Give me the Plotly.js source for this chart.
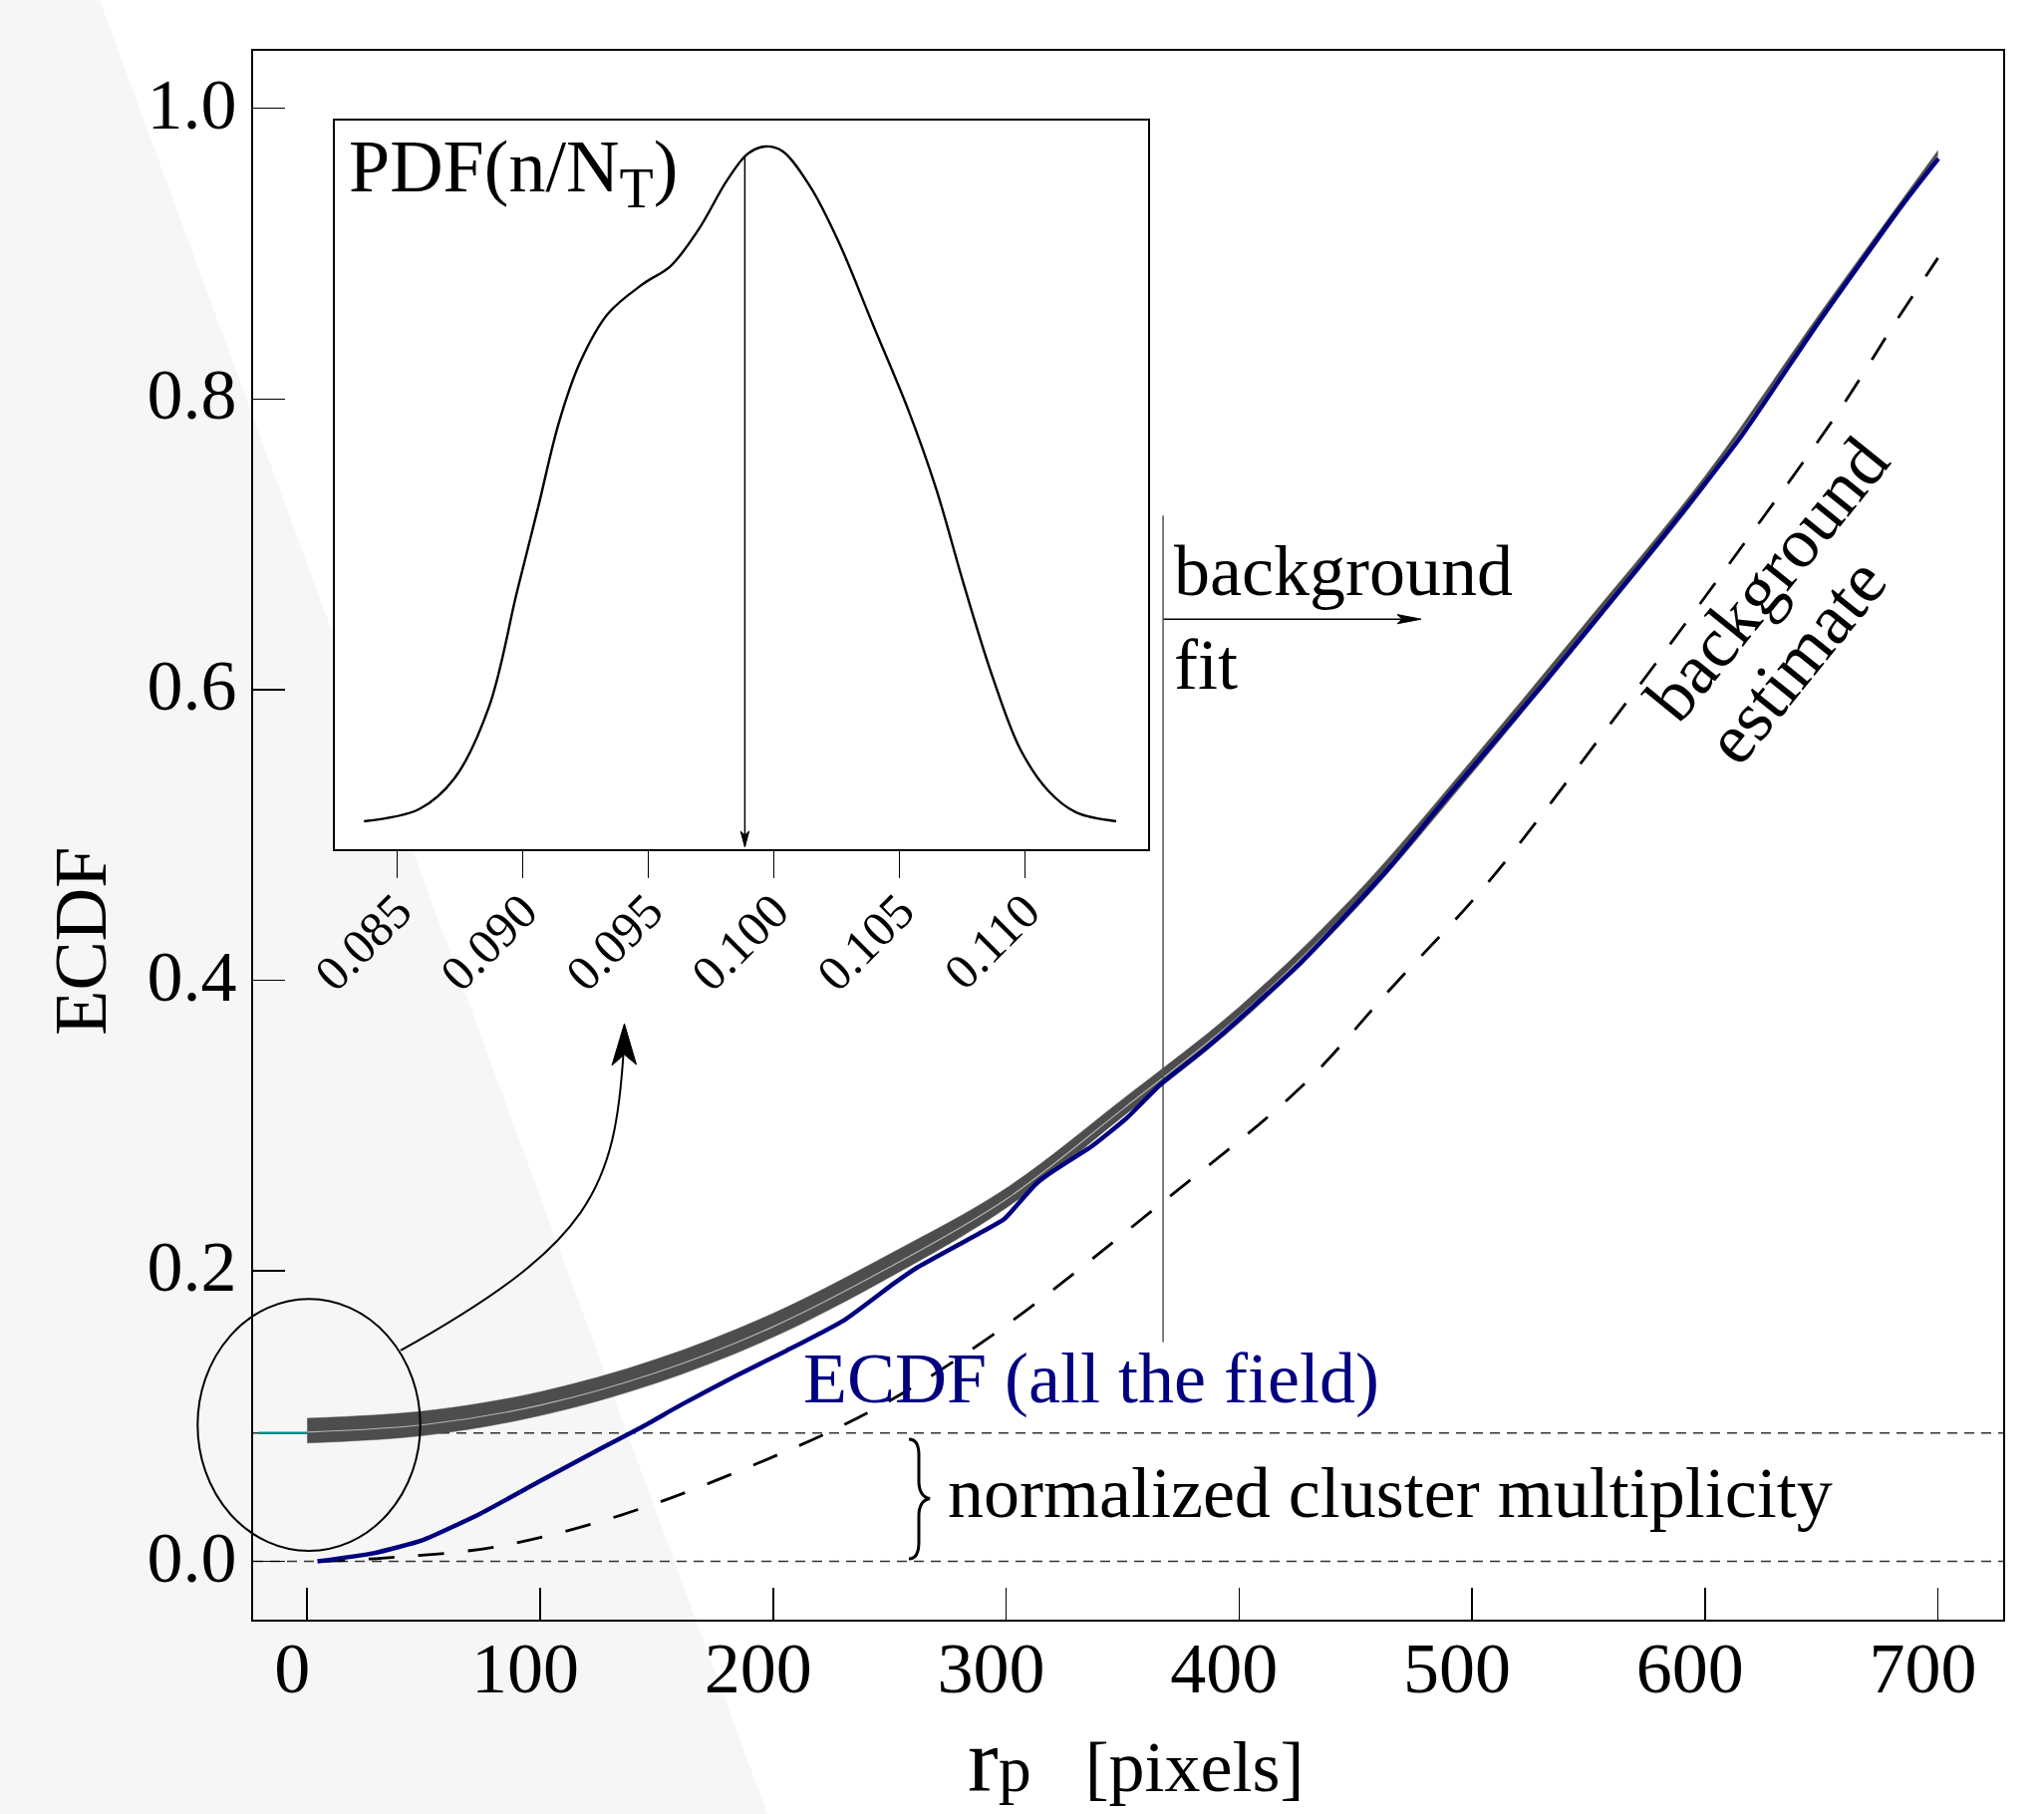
<!DOCTYPE html>
<html>
<head>
<meta charset="utf-8">
<script src="https://cdn.plot.ly/plotly-3.0.1.min.js"></script>
<style>
html,body{margin:0;padding:0;background:#ffffff;}
#chart{width:2051px;height:1820px;}
</style>
</head>
<body>
<div id="chart"></div>
<script>
// ---------------- data ----------------
// ECDF of the whole field (navy line)
const ecdfR = [4.4, 28.4, 49.7, 74.5, 99.3, 125.9, 143.7, 161.4, 184.4, 205.7, 230.5, 252.0, 261.8, 291.8, 299.1, 314.1, 336.8, 351.8, 366.9, 384.9, 404.4, 426.9, 449.1, 465.9, 487.9, 530.2, 572.5, 614.8, 648.6, 682.5, 700.2];
const ecdfY = [0.000, 0.0056, 0.0147, 0.0330, 0.0547, 0.0776, 0.0925, 0.1085, 0.1280, 0.1450, 0.1660, 0.1915, 0.2022, 0.2286, 0.2354, 0.2617, 0.2857, 0.3051, 0.3291, 0.3520, 0.3795, 0.4126, 0.4503, 0.4800, 0.5232, 0.6030, 0.6861, 0.7726, 0.8524, 0.9289, 0.9654];

// background fit band (grey)
const fitR     = [0, 50, 100, 150, 200, 250, 300, 350, 400, 450, 500, 550, 600, 650, 700];
const fitLower = [0.0815, 0.0866, 0.1003, 0.1228, 0.1543, 0.1955, 0.2432, 0.3060, 0.3705, 0.4490, 0.5424, 0.6398, 0.7392, 0.8536, 0.9650];
const fitUpper = [0.0985, 0.1034, 0.1167, 0.1392, 0.1707, 0.2115, 0.2568, 0.3180, 0.3815, 0.4590, 0.5516, 0.6482, 0.7468, 0.8604, 0.9710];
const fitMid   = [0.0890, 0.0940, 0.1075, 0.1300, 0.1615, 0.2025, 0.2492, 0.3112, 0.3752, 0.4532, 0.5462, 0.6432, 0.7422, 0.8562, 0.9672];

// background estimate (dashed)
const bgR = [5, 32, 81.6, 134.8, 188, 241.2, 291.8, 366.9, 426.9, 465.9, 506.6, 564.1, 614.8, 657.9, 681.6, 700];
const bgY = [0.000, 0.0022, 0.0102, 0.0319, 0.0639, 0.1028, 0.1531, 0.2468, 0.3269, 0.3955, 0.4667, 0.5864, 0.6961, 0.7926, 0.8524, 0.8970];

// inset: PDF(n/N_T), relative density
const pdfX = [0.08369, 0.08589, 0.08728, 0.08867, 0.08978, 0.09062, 0.09145, 0.09229, 0.09340, 0.09479, 0.09590, 0.09701, 0.09813, 0.09896, 0.09966, 0.10035, 0.10146, 0.10258, 0.10397, 0.10536, 0.10647, 0.10758, 0.10870, 0.10981, 0.11093, 0.11204, 0.11363];
const pdfY = [0.000, 0.018, 0.063, 0.170, 0.340, 0.465, 0.591, 0.680, 0.752, 0.796, 0.823, 0.877, 0.949, 0.989, 1.000, 0.993, 0.940, 0.859, 0.734, 0.609, 0.492, 0.349, 0.215, 0.107, 0.045, 0.013, 0.000];

const multiplicity = 0.0884;   // normalized cluster multiplicity
const meanFraction = 0.09885;  // marked value of n/N_T
const fitStartR = 367.4;       // start of the background-fit region

const xTicks = [0, 100, 200, 300, 400, 500, 600, 700];
const yTicks = [0.0, 0.2, 0.4, 0.6, 0.8, 1.0];
const insetTicks = [0.085, 0.090, 0.095, 0.100, 0.105, 0.110];

// ---------------- layout geometry (pixels -> paper) ----------------
const L = 254, R = 2010, T = 51, B = 1625, W = R - L, H = B - T;
const px = X => (X - L) / W;
const py = Y => (B - Y) / H;
const P = (X, Y) => px(X).toFixed(5) + ',' + py(Y).toFixed(5);

const FONT = 'Liberation Serif, Times New Roman, serif';
const NAVY = '#000080';
const TEAL = '#008b8b';
const XR = [-23.2, 728];
const YR = [-0.0401, 1.0396];

const traces = [
  {x: XR, y: [0, 0], mode: 'lines', line: {color: '#333', width: 1.5, dash: '10px,7px'}, xaxis: 'x', yaxis: 'y'},
  {x: XR, y: [multiplicity, multiplicity], mode: 'lines', line: {color: '#333', width: 1.5, dash: '10px,7px'}, xaxis: 'x', yaxis: 'y'},
  {x: fitR, y: fitLower, mode: 'lines', line: {color: '#4d4d4d', width: 0.5, shape: 'spline'}, xaxis: 'x', yaxis: 'y'},
  {x: fitR, y: fitUpper, mode: 'lines', fill: 'tonexty', fillcolor: '#4d4d4d', line: {color: '#4d4d4d', width: 0.5, shape: 'spline'}, xaxis: 'x', yaxis: 'y'},
  {x: fitR, y: fitMid, mode: 'lines', line: {color: '#b4b4b4', width: 1.2, shape: 'spline'}, xaxis: 'x', yaxis: 'y'},
  {x: [-20.9, 0], y: [multiplicity, multiplicity], mode: 'lines', line: {color: TEAL, width: 2.5}, xaxis: 'x', yaxis: 'y'},
  {x: bgR, y: bgY, mode: 'lines', line: {color: '#000', width: 2.8, dash: '26px,24px', shape: 'spline'}, xaxis: 'x', yaxis: 'y'},
  {x: [fitStartR, fitStartR], y: [0.151, 0.7198], mode: 'lines', line: {color: '#555', width: 1.5}, xaxis: 'x', yaxis: 'y'},
  {x: ecdfR, y: ecdfY, mode: 'lines', line: {color: NAVY, width: 4.5, shape: 'spline', smoothing: 0.5}, xaxis: 'x', yaxis: 'y'},
  {x: pdfX, y: pdfY, mode: 'lines', line: {color: '#000', width: 2.4, shape: 'spline'}, xaxis: 'x2', yaxis: 'y2'},
  {x: [meanFraction], y: [-0.0747], mode: 'markers', cliponaxis: false,
   marker: {symbol: 'line-ns', size: 46, color: TEAL, line: {color: TEAL, width: 2.5}}, xaxis: 'x2', yaxis: 'y2'}
];

const ann = (text, X, Y, extra) => Object.assign({
  text: text, xref: 'paper', yref: 'paper', x: px(X), y: py(Y),
  showarrow: false, xanchor: 'left', yanchor: 'middle',
  font: {family: FONT, size: 72, color: '#000'}
}, extra || {});

const annotations = [
  ann('PDF(n/N<sub><span style="font-size:56px">T</span></sub>)', 348, 124, {yanchor: 'top', font: {family: FONT, size: 74, color: '#000'}}),
  ann('background', 1176, 573),
  ann('fit', 1176, 667),
  ann('ECDF (all the field)', 804, 1383, {font: {family: FONT, size: 72, color: NAVY}}),
  ann('normalized cluster multiplicity', 949, 1497.5),
  ann('background', 1773, 581, {xanchor: 'center', textangle: -51}),
  ann('estimate', 1802, 663, {xanchor: 'center', textangle: -51}),
  ann('ECDF', 81, 944.7, {xanchor: 'center', textangle: -90, font: {family: FONT, size: 74, color: '#000'}}),
  ann('<span style="font-size:92px">r</span><span style="font-size:66px">p</span>\u00a0\u00a0\u00a0[pixels]', 969, 1819,
      {yanchor: 'bottom', font: {family: FONT, size: 72, color: '#000'}})
];

const shapes = [
  // faint grey fan in the page background
  {type: 'path', xref: 'paper', yref: 'paper', layer: 'below',
   path: 'M' + P(0, 0) + ' L' + P(100, 0) + ' L' + P(770, 1820) + ' L' + P(0, 1820) + ' Z',
   fillcolor: '#f6f6f6', line: {width: 0}},
  // white inset panel
  {type: 'rect', xref: 'paper', yref: 'paper', layer: 'below',
   x0: px(336), x1: px(1151.5), y0: py(851.7), y1: py(121.2), fillcolor: '#ffffff', line: {width: 0}},
  // ellipse around the start of the fit
  {type: 'circle', xref: 'paper', yref: 'paper', x0: px(198.3), x1: px(421.7), y0: py(1556), y1: py(1303.3),
   line: {color: '#000', width: 2}},
  // curved arrow to the inset
  {type: 'path', xref: 'paper', yref: 'paper',
   path: 'M' + P(402, 1355) + ' C' + P(593.8, 1247.2) + ' ' + P(617.4, 1194.7) + ' ' + P(626, 1050),
   line: {color: '#000', width: 2}},
  {type: 'path', xref: 'paper', yref: 'paper',
   path: 'M' + P(626.5, 1027) + ' L' + P(638.5, 1068) + ' L' + P(626.4, 1058) + ' L' + P(614, 1069) + ' Z',
   fillcolor: '#000', line: {color: '#000', width: 1}},
  // arrow marking the mean value in the inset
  {type: 'path', xref: 'paper', yref: 'paper',
   path: 'M' + P(747.4, 156.3) + ' L' + P(747.4, 840),
   line: {color: '#000', width: 1.5}},
  {type: 'path', xref: 'paper', yref: 'paper',
   path: 'M' + P(747.4, 850) + ' L' + P(751.6, 834) + ' L' + P(747.4, 838) + ' L' + P(743.2, 834) + ' Z',
   fillcolor: '#000', line: {color: '#000', width: 1}},
  // "background fit" arrow
  {type: 'path', xref: 'paper', yref: 'paper',
   path: 'M' + P(1167.6, 621.2) + ' L' + P(1418, 621.2),
   line: {color: '#000', width: 1.5}},
  {type: 'path', xref: 'paper', yref: 'paper',
   path: 'M' + P(1426, 621.2) + ' L' + P(1402, 616.6) + ' L' + P(1407, 621.2) + ' L' + P(1402, 625.8) + ' Z',
   fillcolor: '#000', line: {color: '#000', width: 1}},
  // brace
  {type: 'path', xref: 'paper', yref: 'paper',
   path: 'M' + P(912, 1444) + ' C' + P(919, 1444) + ' ' + P(922, 1449) + ' ' + P(922, 1460) +
         ' L' + P(922, 1486) + ' C' + P(922, 1496) + ' ' + P(925, 1502) + ' ' + P(933, 1503.5) +
         ' C' + P(925, 1505) + ' ' + P(922, 1511) + ' ' + P(922, 1521) +
         ' L' + P(922, 1547) + ' C' + P(922, 1558) + ' ' + P(919, 1564) + ' ' + P(912, 1564),
   line: {color: '#000', width: 3}}
];

const axisCommon = {
  showgrid: false, zeroline: false, showline: true, mirror: true,
  linecolor: '#000', linewidth: 2, tickcolor: '#000', tickwidth: 1.5,
  tickfont: {family: FONT, size: 72, color: '#000'}
};

const layout = {
  width: 2051, height: 1820,
  margin: {l: L, r: 2051 - R, t: T, b: 1820 - B, pad: 0},
  paper_bgcolor: '#ffffff', plot_bgcolor: 'rgba(0,0,0,0)',
  showlegend: false, hovermode: false,
  font: {family: FONT, color: '#000'},
  xaxis: Object.assign({}, axisCommon, {domain: [0, 1], anchor: 'y', range: XR, tickmode: 'array', tickvals: xTicks,
    ticks: 'inside', ticklen: 32, ticklabelstandoff: -15, ticklabelshift: -15}),
  yaxis: Object.assign({}, axisCommon, {domain: [0, 1], anchor: 'x', range: YR, tickmode: 'array', tickvals: yTicks,
    tickformat: '.1f', ticks: 'inside', ticklen: 32, ticklabelshift: -5}),
  xaxis2: Object.assign({}, axisCommon, {domain: [px(336), px(1151.5)], anchor: 'y2', range: [0.08253, 0.11488],
    tickmode: 'array', tickvals: insetTicks, tickformat: '.3f', ticks: 'outside', ticklen: 27, tickangle: -45,
    ticklabelstandoff: -16, tickfont: {family: FONT, size: 50, color: '#000'}}),
  yaxis2: Object.assign({}, axisCommon, {domain: [py(851.7), py(121.2)], anchor: 'x2', range: [-0.041, 1.038],
    showticklabels: false, ticks: ''}),
  annotations: annotations,
  shapes: shapes
};

Plotly.newPlot('chart', traces, layout, {staticPlot: true, displayModeBar: false});
</script>
</body>
</html>
